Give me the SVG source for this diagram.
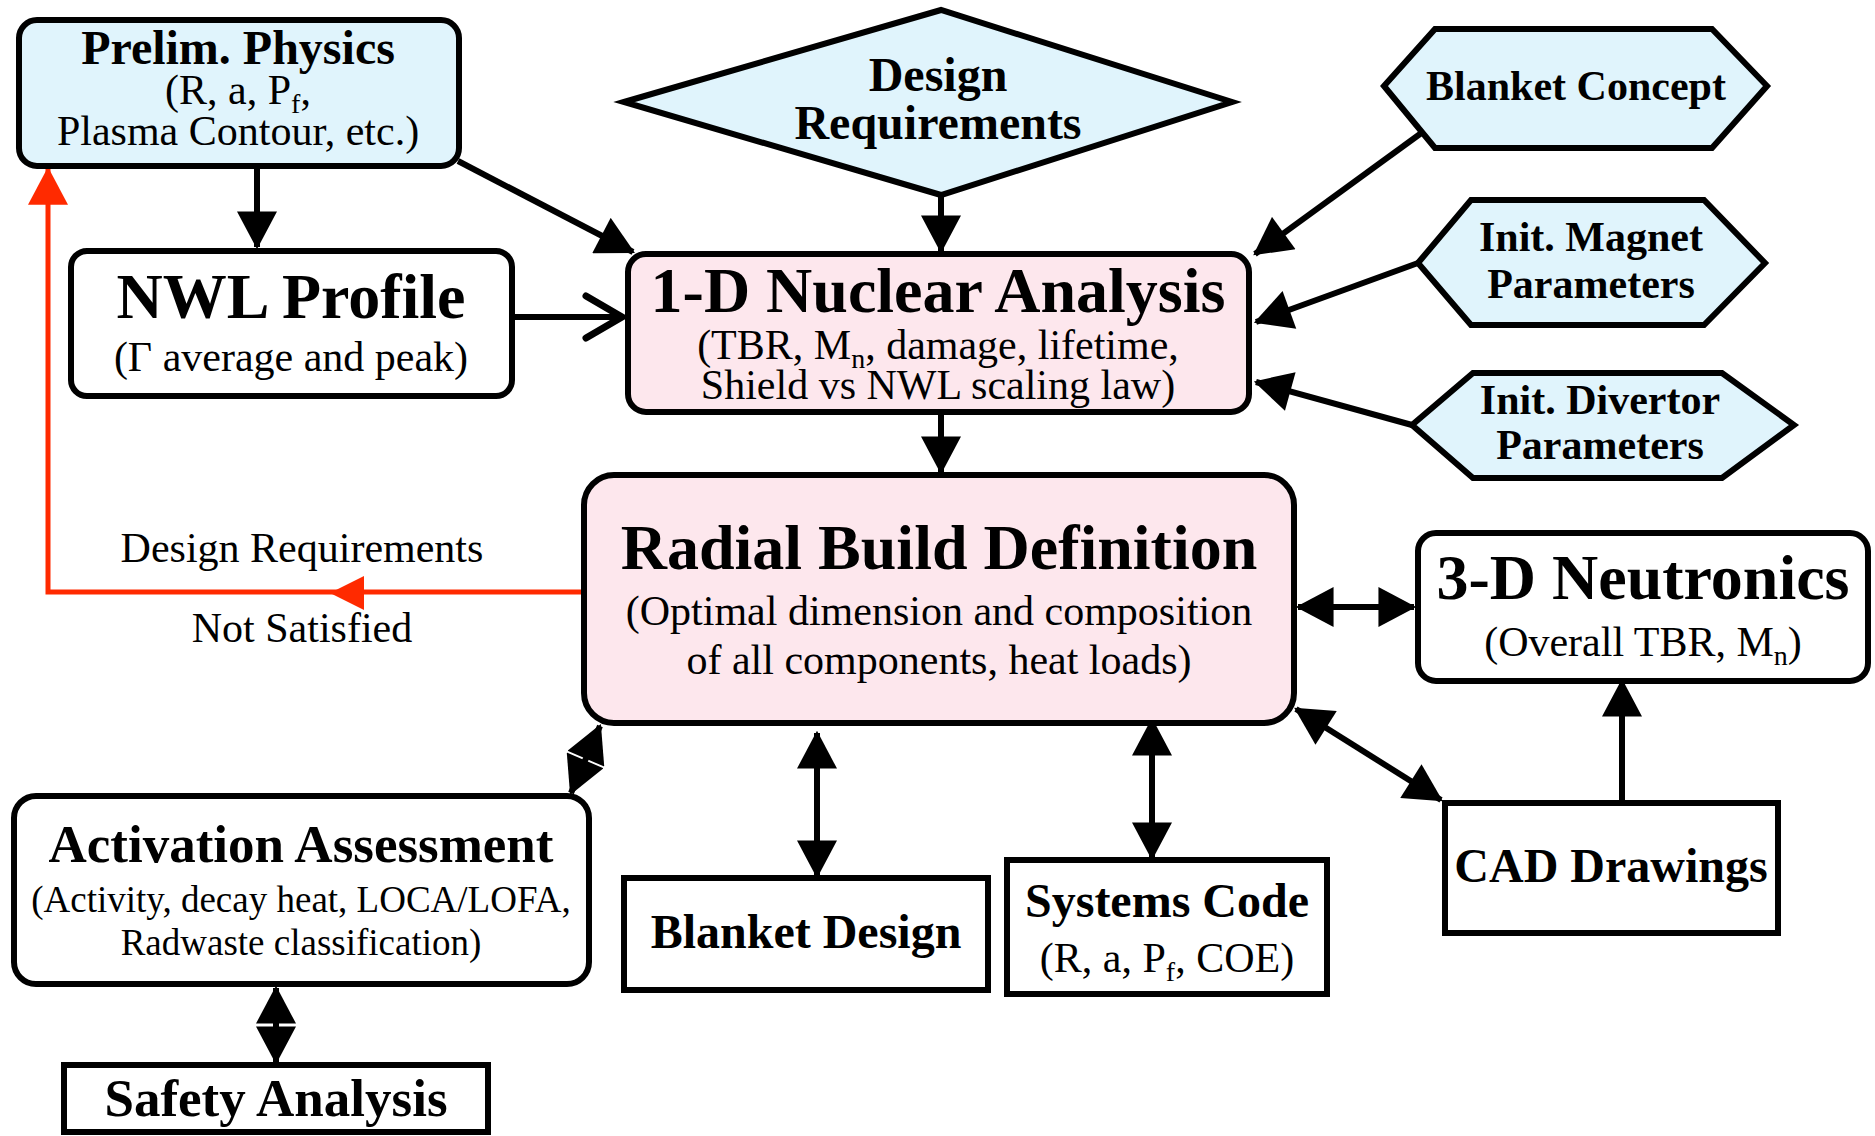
<svg xmlns="http://www.w3.org/2000/svg" width="1875" height="1136" viewBox="0 0 1875 1136">
<style>
  .box{stroke:#000;stroke-width:6;}
  .blue{fill:#e0f4fc;}
  .pink{fill:#fde7ed;}
  .white{fill:#fff;}
  text{font-family:"Liberation Serif","Times New Roman",serif;fill:#000;text-anchor:middle;}
  .b{font-weight:bold;}
  .big{font-size:64px;font-weight:bold;}
  .t48{font-size:48px;font-weight:bold;}
  .t42b{font-size:42px;font-weight:bold;}
  .t53{font-size:53px;font-weight:bold;}
  .r42{font-size:42px;}
  .r37{font-size:37px;}
  .sub{font-size:28px;}
  .ln{stroke:#000;stroke-width:6;fill:none;}
  .red{stroke:#ff2a00;stroke-width:5;fill:none;}
</style>
<defs>
  <marker id="ah" markerUnits="userSpaceOnUse" markerWidth="40" markerHeight="40" viewBox="0 0 34 36" refX="32" refY="18" orient="auto-start-reverse">
    <path d="M0,0 L34,18 L0,36 Z" fill="#000"/>
  </marker>
  <marker id="open" markerUnits="userSpaceOnUse" markerWidth="50" markerHeight="50" viewBox="0 0 44 50" refX="40" refY="25" orient="auto">
    <path d="M4,4 L40,25 L4,46" fill="none" stroke="#000" stroke-width="7" stroke-linecap="round" stroke-linejoin="miter"/>
  </marker>
  <marker id="ahr" markerUnits="userSpaceOnUse" markerWidth="40" markerHeight="40" viewBox="0 0 34 36" refX="33" refY="18" orient="auto">
    <path d="M0,0 L34,18 L0,36 Z" fill="#ff2a00"/>
  </marker>
</defs>

<g id="connectors">
  <line class="ln" x1="257" y1="167" x2="257" y2="247" marker-end="url(#ah)"/>
  <line class="ln" x1="458" y1="161" x2="633" y2="252" marker-end="url(#ah)"/>
  <line class="ln" x1="515" y1="317" x2="622" y2="317" marker-end="url(#open)"/>
  <line class="ln" x1="941" y1="195" x2="941" y2="251" marker-end="url(#ah)"/>
  <line class="ln" x1="1431" y1="126" x2="1255" y2="254" marker-end="url(#ah)"/>
  <line class="ln" x1="1418" y1="263" x2="1256" y2="322" marker-end="url(#ah)"/>
  <line class="ln" x1="1412" y1="425" x2="1256" y2="382" marker-end="url(#ah)"/>
  <line class="ln" x1="941" y1="415" x2="941" y2="472" marker-end="url(#ah)"/>
  <line class="ln" x1="1298" y1="607" x2="1414" y2="607" marker-start="url(#ah)" marker-end="url(#ah)"/>
  <line class="ln" x1="600" y1="726" x2="571" y2="793" marker-start="url(#ah)" marker-end="url(#ah)"/>
  <line class="ln" x1="817" y1="733" x2="817" y2="876" marker-start="url(#ah)" marker-end="url(#ah)"/>
  <line class="ln" x1="1152" y1="720" x2="1152" y2="858" marker-start="url(#ah)" marker-end="url(#ah)"/>
  <line class="ln" x1="1296" y1="709" x2="1441" y2="800" marker-start="url(#ah)" marker-end="url(#ah)"/>
  <line class="ln" x1="1622" y1="801" x2="1622" y2="681" marker-end="url(#ah)"/>
  <line class="ln" x1="276" y1="988" x2="276" y2="1062" marker-start="url(#ah)" marker-end="url(#ah)"/>
  <path class="red" d="M582,592 H48 V168" marker-end="url(#ahr)"/>
  <polygon points="330,593 364,576 364,610" fill="#ff2a00"/>
  <text class="r42" x="302" y="562">Design Requirements</text>
  <text class="r42" x="302" y="642">Not Satisfied</text>
</g>

<g id="prelim-physics">
  <rect class="box blue" x="19" y="20" width="440" height="146" rx="18"/>
  <text class="t48" x="238" y="64">Prelim. Physics</text>
  <text class="r42" x="238" y="104">(R, a, P<tspan class="sub" dy="9">f</tspan><tspan dy="-9">,</tspan></text>
  <text class="r42" x="238" y="145">Plasma Contour, etc.)</text>
</g>

<g id="design-requirements">
  <polygon class="box blue" points="624,102 941,10 1232,102 941,195"/>
  <text class="t48" x="938" y="91">Design</text>
  <text class="t48" x="938" y="139">Requirements</text>
</g>

<g id="blanket-concept">
  <polygon class="box blue" points="1384,86 1435,29 1712,29 1767,86 1712,148 1435,148"/>
  <text class="t42b" x="1576" y="100">Blanket Concept</text>
</g>

<g id="init-magnet">
  <polygon class="box blue" points="1418,263 1471,200 1704,200 1765,263 1704,325 1471,325"/>
  <text class="t42b" x="1591" y="251">Init. Magnet</text>
  <text class="t42b" x="1591" y="298">Parameters</text>
</g>

<g id="init-divertor">
  <polygon class="box blue" points="1412,425 1473,373 1722,373 1794,425 1722,478 1473,478"/>
  <text class="t42b" x="1600" y="414">Init. Divertor</text>
  <text class="t42b" x="1600" y="459">Parameters</text>
</g>

<g id="nwl-profile">
  <rect class="box white" x="71" y="251" width="441" height="145" rx="16"/>
  <text class="big" x="291" y="318">NWL Profile</text>
  <text class="r42" x="291" y="371">(Γ average and peak)</text>
</g>

<g id="nuclear-1d">
  <rect class="box pink" x="628" y="254" width="621" height="158" rx="18"/>
  <text class="big" x="938" y="312">1-D Nuclear Analysis</text>
  <text class="r42" x="938" y="359">(TBR, M<tspan class="sub" dy="9">n</tspan><tspan dy="-9">, damage, lifetime,</tspan></text>
  <text class="r42" x="938" y="399">Shield vs NWL scaling law)</text>
</g>

<g id="radial-build">
  <rect class="box pink" x="584" y="475" width="710" height="248" rx="30"/>
  <text class="big" x="939" y="569">Radial Build Definition</text>
  <text class="r42" x="939" y="625">(Optimal dimension and composition</text>
  <text class="r42" x="939" y="674">of all components, heat loads)</text>
</g>

<g id="neutronics-3d">
  <rect class="box white" x="1418" y="533" width="450" height="148" rx="18"/>
  <text class="big" x="1643" y="599">3-D Neutronics</text>
  <text class="r42" x="1643" y="656">(Overall TBR, M<tspan class="sub" dy="9">n</tspan><tspan dy="-9">)</tspan></text>
</g>

<g id="cad-drawings">
  <rect class="box white" x="1445" y="803" width="333" height="130"/>
  <text class="t48" x="1611" y="882">CAD Drawings</text>
</g>

<g id="activation">
  <rect class="box white" x="14" y="796" width="575" height="188" rx="22"/>
  <text class="t53" x="301" y="862">Activation Assessment</text>
  <text class="r37" x="301" y="912">(Activity, decay heat, LOCA/LOFA,</text>
  <text class="r37" x="301" y="955">Radwaste classification)</text>
</g>

<g id="safety">
  <rect class="box white" x="64" y="1065" width="424" height="67"/>
  <text class="t53" x="276" y="1116">Safety Analysis</text>
</g>

<g id="blanket-design">
  <rect class="box white" x="624" y="878" width="364" height="112"/>
  <text class="t48" x="806" y="948">Blanket Design</text>
</g>

<g id="systems-code">
  <rect class="box white" x="1007" y="860" width="320" height="134"/>
  <text class="t48" x="1167" y="917">Systems Code</text>
  <text class="r42" x="1167" y="972">(R, a, P<tspan class="sub" dy="9">f</tspan><tspan dy="-9">, COE)</tspan></text>
</g>
</svg>
